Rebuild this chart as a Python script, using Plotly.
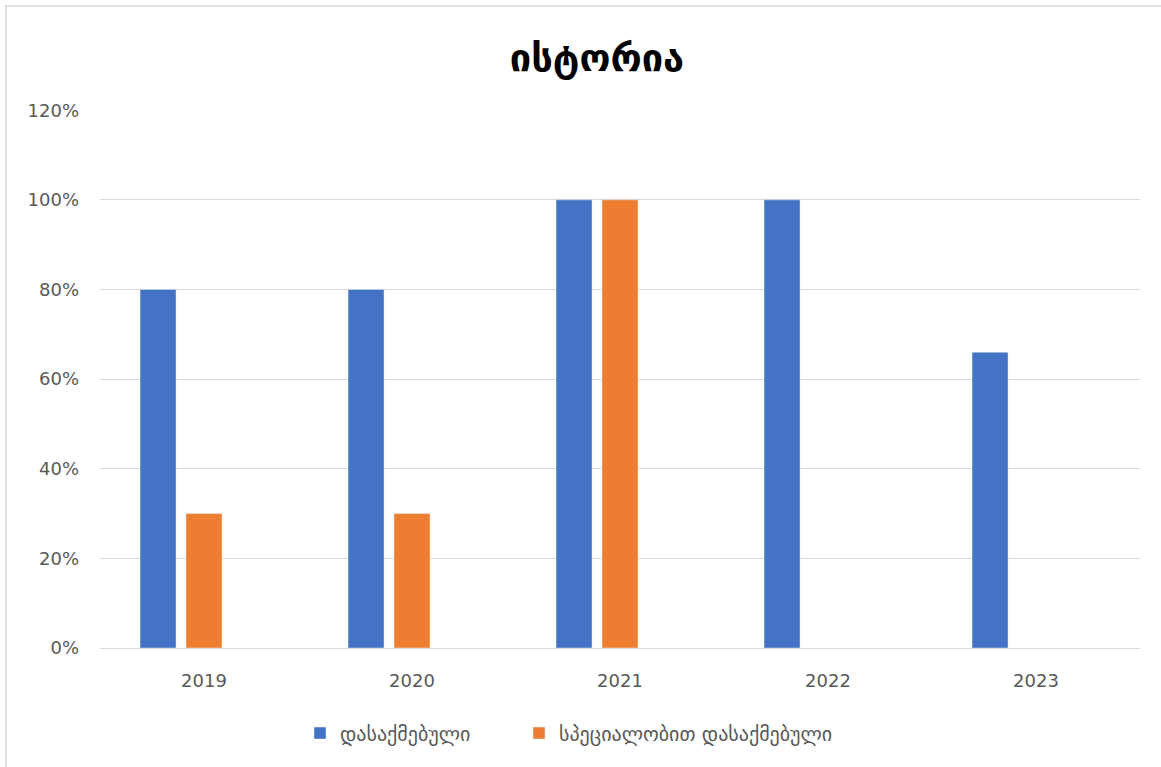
import plotly.graph_objects as go

years = ["2019", "2020", "2021", "2022", "2023"]
employed = [0.80, 0.80, 1.00, 1.00, 0.66]
employed_specialty = [0.30, 0.30, 1.00, None, None]
third_series = [None, None, None, None, None]

series_names = ["დასაქმებული", "სპეციალობით დასაქმებული"]
title_text = "ისტორია"
tick_vals = [0, 0.2, 0.4, 0.6, 0.8, 1.0, 1.2]
tick_text = ["0%", "20%", "40%", "60%", "80%", "100%", "120%"]

W, H = 1161, 767
ml, mr, mt, mb = 100, 21, 110, 119

fig = go.Figure()
fig.add_trace(go.Bar(x=years, y=employed, name=series_names[0], marker_color="#4472C4",
                     legend="legend"))
fig.add_trace(go.Bar(x=years, y=employed_specialty, name=series_names[1], marker_color="#ED7D31",
                     legend="legend2"))
fig.add_trace(go.Bar(x=years, y=third_series, name="", showlegend=False, marker_color="#A5A5A5"))

font_fam = "DejaVu Sans, Noto Sans, sans-serif"
pw = W - ml - mr
ph = H - mt - mb
legend_font = dict(family=font_fam, size=20, color="#595959")
fig.update_layout(
    width=W, height=H,
    margin=dict(l=ml, r=mr, t=mt, b=mb),
    paper_bgcolor="white", plot_bgcolor="white",
    barmode="group", bargap=0.337, bargroupgap=0.217,
    title=dict(text="<b>" + title_text + "</b>", x=597 / W, xanchor="center",
               y=1 - 58 / H, yanchor="middle",
               font=dict(family=font_fam, size=38, color="#000000")),
    xaxis=dict(type="category", range=[-0.5, 4.5], showgrid=False, showline=True,
               linecolor="#D9D9D9", linewidth=1, ticks="",
               tickfont=dict(family=font_fam, size=18, color="#595959")),
    yaxis=dict(range=[0, 1.2005], tickvals=tick_vals, ticktext=tick_text, showgrid=True,
               gridcolor="#D9D9D9", gridwidth=1, zeroline=False, showline=False,
               ticks="", ticklen=0, tickfont=dict(family=font_fam, size=18, color="#595959")),
    legend=dict(orientation="h", x=(300 - 100) / pw, xanchor="left",
                y=-(733 - 648) / ph, yanchor="middle", font=legend_font, itemwidth=30),
    legend2=dict(orientation="h", x=(519 - 100) / pw, xanchor="left",
                 y=-(733 - 648) / ph, yanchor="middle", font=legend_font, itemwidth=30),
    showlegend=True,
)
fig.update_yaxes(ticklabelstandoff=20)
fig.update_xaxes(ticklabelstandoff=16)

# outer chart border (Excel chart area frame)
fig.add_shape(type="rect", xref="paper", yref="paper",
              x0=(6 - ml) / pw, x1=(W + 20 - ml) / pw,
              y0=-(H + 20 - mt - ph) / ph, y1=(mt + ph - 6) / ph,
              line=dict(color="#D9D9D9", width=1.5), fillcolor="rgba(0,0,0,0)", layer="below")

fig.write_html("out.html", config={"displayModeBar": False},
               post_script="document.body.style.margin='0px';")
